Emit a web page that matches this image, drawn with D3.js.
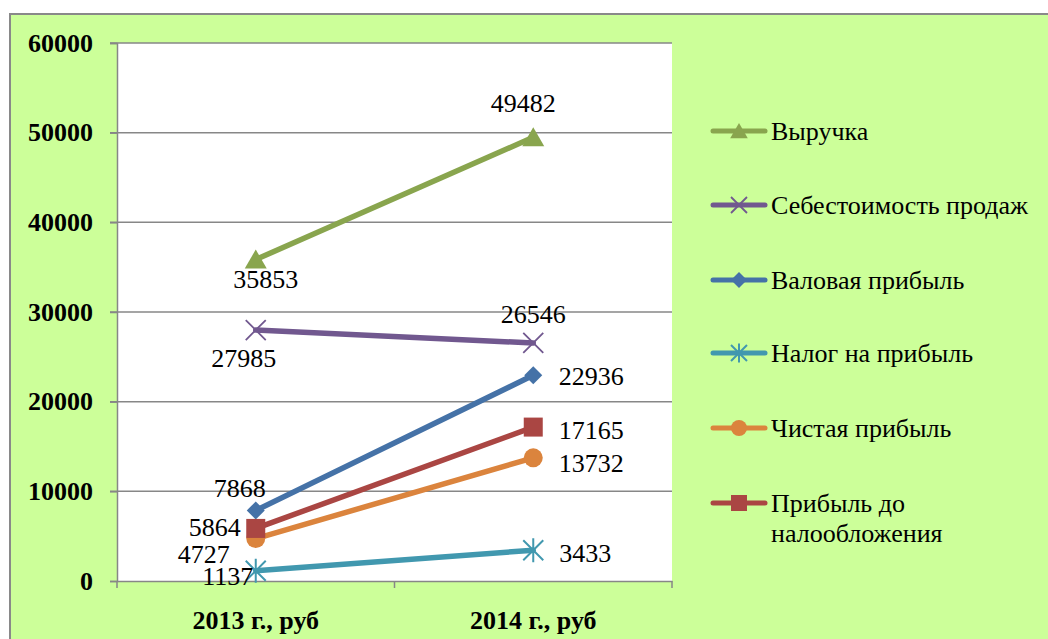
<!DOCTYPE html>
<html>
<head>
<meta charset="utf-8">
<script src="https://cdn.jsdelivr.net/npm/d3@7"></script>
<style>
body { margin: 0; background: #fff; }
</style>
</head>
<body>
<svg id="chart" width="1048" height="639" font-family="Liberation Serif, serif"></svg>
<script>
// data
var years = ["2013 г., руб", "2014 г., руб"];
var seriesNames = ["Выручка", "Себестоимость продаж", "Валовая прибыль", "Налог на прибыль", "Чистая прибыль", "Прибыль до налообложения"];
var vyruchka = [35853, 49482];
var sebest = [27985, 26546];
var valovaya = [7868, 22936];
var nalog = [1137, 3433];
var chistaya = [4727, 13732];
var dohoda = [5864, 17165];
var yTicks = [0, 10000, 20000, 30000, 40000, 50000, 60000];

var colors = ["#89a54e", "#71588f", "#4572a7", "#4198af", "#db843d", "#aa4643"];
var markerKinds = ["triangle", "x", "diamond", "star", "circle", "square"];
var values = [vyruchka, sebest, valovaya, nalog, chistaya, dohoda];

var serif = "Liberation Serif";

// where the value labels sit, per series, per year
var labelPlace = [
  [{dx: 10, dy: 20}, {dx: -10, dy: -34}],
  [{dx: -12, dy: 28}, {dx: 0, dy: -28}],
  [{dx: -16, dy: -22}, {dx: 58, dy: 1}],
  [{dx: -28, dy: 6}, {dx: 52, dy: 3}],
  [{dx: -52, dy: 16}, {dx: 58, dy: 6}],
  [{dx: -41, dy: -1}, {dx: 58, dy: 3}]
];

var svg = d3.select("#chart");

// chart area
svg.append("rect")
  .attr("x", 10).attr("y", 14)
  .attr("width", 1060).attr("height", 660)
  .attr("fill", "#ccff99")
  .attr("stroke", "#898989").attr("stroke-width", 2);

var plot = {left: 117, top: 43, right: 672, bottom: 581};

svg.append("rect")
  .attr("x", plot.left).attr("y", plot.top)
  .attr("width", plot.right - plot.left).attr("height", plot.bottom - plot.top)
  .attr("fill", "#fff");

var x = d3.scaleBand().domain(years).range([plot.left, plot.right]);
var y = d3.scaleLinear().domain([0, 60000]).range([plot.bottom, plot.top]);

// gridlines
svg.append("g").selectAll("line")
  .data(yTicks.filter(d => d > 0))
  .enter().append("line")
  .attr("x1", plot.left - 7).attr("x2", plot.right)
  .attr("y1", d => y(d)).attr("y2", d => y(d))
  .attr("stroke", "#878787").attr("stroke-width", 1.5);

// y axis
var yAxis = svg.append("g")
  .attr("transform", "translate(" + plot.left + ",0)")
  .call(d3.axisLeft(y).tickValues(yTicks).tickSize(7).tickPadding(17).tickFormat(d3.format("d")));
yAxis.attr("font-family", null);
yAxis.select(".domain").attr("stroke", "#878787").attr("stroke-width", 1.5);
yAxis.selectAll(".tick line").attr("stroke", "#878787").attr("stroke-width", 1.5);
yAxis.selectAll("text")
  .attr("fill", "#000")
  .style("font-family", serif)
  .style("font-size", "26px").style("font-weight", "bold");

// x axis
var xAxis = svg.append("g")
  .attr("transform", "translate(0," + plot.bottom + ")")
  .call(d3.axisBottom(x).tickSize(0).tickPadding(30));
xAxis.attr("font-family", null);
xAxis.select(".domain").attr("stroke", "#878787").attr("stroke-width", 1.5);
xAxis.selectAll("text")
  .attr("fill", "#000")
  .style("font-family", serif)
  .style("font-size", "26px").style("font-weight", "bold");
svg.append("g").selectAll("line")
  .data([plot.left, x(years[1]), plot.right])
  .enter().append("line")
  .attr("x1", d => d).attr("x2", d => d)
  .attr("y1", plot.bottom).attr("y2", plot.bottom + 7)
  .attr("stroke", "#878787").attr("stroke-width", 1.5);

function cx(i) { return x(years[i]) + x.bandwidth() / 2; }

function drawMarker(g, kind, color, px, py, s) {
  var h = s * 0.5;
  if (kind == "triangle") {
    g.append("path").attr("d", "M" + px + "," + (py - s * 0.5) + "L" + (px + s * 0.55) + "," + (py + s * 0.45) + "L" + (px - s * 0.55) + "," + (py + s * 0.45) + "Z").attr("fill", color);
  } else if (kind == "x") {
    g.append("path").attr("d", "M" + (px - h) + "," + (py - h) + "L" + (px + h) + "," + (py + h) + "M" + (px + h) + "," + (py - h) + "L" + (px - h) + "," + (py + h))
      .attr("stroke", color).attr("stroke-width", 1.8).attr("fill", "none");
  } else if (kind == "diamond") {
    g.append("path").attr("d", "M" + px + "," + (py - h) + "L" + (px + h) + "," + py + "L" + px + "," + (py + h) + "L" + (px - h) + "," + py + "Z").attr("fill", color);
  } else if (kind == "star") {
    g.append("path").attr("d", "M" + (px - h) + "," + (py - h) + "L" + (px + h) + "," + (py + h) + "M" + (px + h) + "," + (py - h) + "L" + (px - h) + "," + (py + h) + "M" + px + "," + (py - h * 1.2) + "L" + px + "," + (py + h * 1.2))
      .attr("stroke", color).attr("stroke-width", 2).attr("fill", "none");
  } else if (kind == "circle") {
    g.append("circle").attr("cx", px).attr("cy", py).attr("r", h).attr("fill", color);
  } else if (kind == "square") {
    g.append("rect").attr("x", px - h).attr("y", py - h).attr("width", s).attr("height", s).attr("fill", color);
  }
}

var line = d3.line().x((d, i) => cx(i)).y(d => y(d));
var sizes = [20, 20, 18, 20, 19, 19];

values.forEach(function(vals, k) {
  var g = svg.append("g");
  g.append("path").datum(vals)
    .attr("d", line)
    .attr("fill", "none")
    .attr("stroke", colors[k]).attr("stroke-width", 5.5).attr("stroke-linecap", "round");
  vals.forEach(function(v, i) {
    drawMarker(g, markerKinds[k], colors[k], cx(i), y(v), sizes[k]);
  });
});

// value labels on top
values.forEach(function(vals, k) {
  svg.append("g").selectAll("text")
    .data(vals).enter().append("text")
    .attr("x", (d, i) => cx(i) + labelPlace[k][i].dx)
    .attr("y", (d, i) => y(d) + labelPlace[k][i].dy)
    .attr("text-anchor", "middle")
    .attr("dominant-baseline", "central")
    .style("font-family", serif)
    .style("font-size", "26px")
    .text(d => d);
});

// legend
var legend = svg.append("g");
var rowY = [131, 205, 280, 353, 428, 503];
seriesNames.forEach(function(name, k) {
  var g = legend.append("g");
  g.append("line")
    .attr("x1", 713).attr("x2", 765)
    .attr("y1", rowY[k]).attr("y2", rowY[k])
    .attr("stroke", colors[k]).attr("stroke-width", 5).attr("stroke-linecap", "round");
  drawMarker(g, markerKinds[k], colors[k], 739, rowY[k], 16);
  var t = g.append("text")
    .attr("x", 771).attr("y", rowY[k])
    .attr("dominant-baseline", "central")
    .style("font-family", serif)
    .style("font-size", "26px");
  if (name == "Прибыль до налообложения") {
    t.append("tspan").attr("x", 771).text("Прибыль до");
    t.append("tspan").attr("x", 771).attr("dy", 30).text("налообложения");
  } else {
    t.text(name);
  }
});
</script>
</body>
</html>
